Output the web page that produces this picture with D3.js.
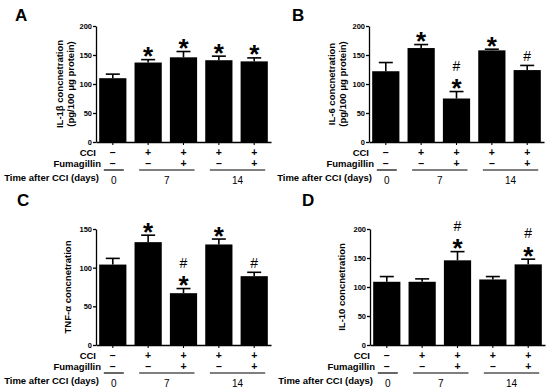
<!DOCTYPE html>
<html>
<head>
<meta charset="utf-8">
<script src="https://cdn.jsdelivr.net/npm/d3@7"></script>
<style>
  body { margin: 0; background: #fff; }
  svg { display: block; font-family: "Liberation Sans", Arial, sans-serif; }
</style>
</head>
<body>
<svg id="fig" width="550" height="391"></svg>
<script>
// five groups: sham, CCI 7d, CCI+Fum 7d, CCI 14d, CCI+Fum 14d
const groups = ['sham', 'cci7', 'cciFum7', 'cci14', 'cciFum14'];
const cciSigns = ['\u2013', '+', '+', '+', '+'];
const fumSigns = ['\u2013', '\u2013', '+', '\u2013', '+'];
const timeLabels = ['0', '7', '14'];
const timeGroups = [[0], [1, 2], [3, 4]];

const il1bMean = [110, 137, 146, 141, 139];
const il1bSem = [7, 5, 10, 7, 6];
const il1bStar = [0, 1, 1, 1, 1];
const il1bHash = [0, 0, 0, 0, 0];

const il6Mean = [122, 162, 75, 158, 124];
const il6Sem = [15, 6, 12, 2, 8];
const il6Star = [0, 1, 1, 1, 0];
const il6Hash = [0, 0, 1, 0, 1];

const tnfMean = [104, 133, 67, 130, 89];
const tnfSem = [8, 9, 6, 7, 5];
const tnfStar = [0, 1, 1, 1, 0];
const tnfHash = [0, 0, 1, 0, 1];

const il10Mean = [109, 109, 146, 113, 139];
const il10Sem = [9, 5, 15, 5, 9];
const il10Star = [0, 0, 1, 0, 1];
const il10Hash = [0, 0, 1, 0, 1];

const svg = d3.select('#fig');

function drawPanel(p) {
    const g = svg.append('g');
    const yScale = d3.scaleLinear().domain([0, p.yMax]).range([p.zeroY, p.topY]);
    const xScale = d3.scaleBand()
        .domain(groups)
        .range([p.axisX, p.axisX + 175])
        .paddingInner(0.23)
        .paddingOuter(0.09);

    // panel letter
    g.append('text')
        .attr('x', p.letterX).attr('y', p.letterY)
        .attr('font-size', '17px').attr('font-weight', 'bold')
        .text(p.letter);

    // bars
    g.selectAll('rect.bar')
        .data(p.mean)
        .join('rect')
        .attr('class', 'bar')
        .attr('x', (d, i) => xScale(groups[i]))
        .attr('width', xScale.bandwidth())
        .attr('y', d => yScale(d))
        .attr('height', d => p.zeroY - yScale(d))
        .attr('fill', '#000');

    // upper error bars
    const err = g.selectAll('g.err')
        .data(p.mean)
        .join('g')
        .attr('class', 'err')
        .attr('transform', (d, i) => `translate(${xScale(groups[i]) + xScale.bandwidth() / 2},0)`);
    err.append('line')
        .attr('y1', d => yScale(d))
        .attr('y2', (d, i) => yScale(d + p.sem[i]))
        .attr('stroke', '#000').attr('stroke-width', 1.6);
    err.append('line')
        .attr('x1', -7).attr('x2', 7)
        .attr('y1', (d, i) => yScale(d + p.sem[i]))
        .attr('y2', (d, i) => yScale(d + p.sem[i]))
        .attr('stroke', '#000').attr('stroke-width', 1.6);

    // significance marks
    p.mean.forEach((d, i) => {
        const cx = xScale(groups[i]) + xScale.bandwidth() / 2;
        const capY = yScale(d + p.sem[i]);
        let hashBase = capY - 4;
        if (p.star[i]) {
            const cy = capY - 9;
            g.append('text')
                .attr('x', cx).attr('y', cy + 14.5)
                .attr('text-anchor', 'middle')
                .attr('font-size', '26px').attr('font-weight', 'bold')
                .text('*');
            hashBase = cy - 12;
        }
        if (p.hash[i]) {
            g.append('text')
                .attr('x', cx).attr('y', hashBase)
                .attr('text-anchor', 'middle')
                .attr('font-size', '14px')
                .text('#');
        }
    });

    // axes
    const yAxis = g.append('g')
        .attr('transform', `translate(${p.axisX},0)`)
        .call(d3.axisLeft(yScale).tickValues(p.ticks).tickSize(3).tickSizeOuter(0).tickPadding(1));
    yAxis.selectAll('text').attr('font-size', '7.5px').attr('font-weight', 'bold')
        .attr('font-family', '"Liberation Sans", Arial, sans-serif');
    yAxis.select('.domain').attr('stroke-width', 1.3);
    yAxis.selectAll('.tick line').attr('stroke-width', 1.3);

    const xAxis = g.append('g')
        .attr('transform', `translate(0,${p.zeroY})`)
        .call(d3.axisBottom(xScale).tickSize(3).tickSizeOuter(0).tickFormat(''));
    xAxis.select('.domain').attr('stroke-width', 1.3);
    xAxis.selectAll('.tick line').attr('stroke-width', 1.1);

    // y label
    const yl = g.append('text')
        .attr('transform', `translate(${p.axisX + p.labelDx},${(p.zeroY + p.topY) / 2}) rotate(-90)`)
        .attr('text-anchor', 'middle')
        .attr('font-size', '9.5px').attr('font-weight', 'bold');
    p.label.forEach((t, k) => {
        yl.append('tspan')
            .attr('x', 0)
            .attr('dy', k === 0 ? (p.label.length > 1 ? '-0.25em' : '0.35em') : '1.15em')
            .text(t);
    });

    // condition table
    const rows = [
        { name: 'CCI', signs: cciSigns, dy: 10.5, dx: 0 },
        { name: 'Fumagillin', signs: fumSigns, dy: 21.5, dx: 5 }
    ];
    rows.forEach(r => {
        g.append('text')
            .attr('x', p.axisX + r.dx).attr('y', p.zeroY + r.dy)
            .attr('dy', '0.35em')
            .attr('text-anchor', 'end')
            .attr('font-size', '9.5px').attr('font-weight', 'bold')
            .text(r.name);
        g.selectAll(null)
            .data(r.signs)
            .join('text')
            .attr('x', (d, i) => xScale(groups[i]) + xScale.bandwidth() / 2)
            .attr('y', p.zeroY + r.dy)
            .attr('dy', '0.35em')
            .attr('text-anchor', 'middle')
            .attr('font-size', '10.5px').attr('font-weight', 'bold')
            .text(d => d);
    });

    g.append('text')
        .attr('x', p.axisX + 3).attr('y', p.zeroY + 36)
        .attr('dy', '0.35em')
        .attr('text-anchor', 'end')
        .attr('font-size', '9.5px').attr('font-weight', 'bold')
        .text('Time after CCI (days)');

    timeGroups.forEach((idx, k) => {
        const x1 = xScale(groups[idx[0]]) + xScale.bandwidth() / 2 - 9;
        const x2 = xScale(groups[idx[idx.length - 1]]) + xScale.bandwidth() / 2 + 11;
        g.append('line')
            .attr('x1', x1).attr('x2', x2)
            .attr('y1', p.zeroY + 28).attr('y2', p.zeroY + 28)
            .attr('stroke', '#000').attr('stroke-width', 1.2);
        g.append('text')
            .attr('x', (x1 + x2) / 2).attr('y', p.zeroY + 38)
            .attr('dy', '0.35em')
            .attr('text-anchor', 'middle')
            .attr('font-size', '10px')
            .text(timeLabels[k]);
    });
}

drawPanel({ letter: 'A', letterX: 15, letterY: 21, axisX: 96, topY: 26, zeroY: 142, yMax: 200,
    ticks: [0, 50, 100, 150, 200], labelDx: -31,
    label: ['IL-1\u03b2 concnetration', '(pg/100 \u03bcg protein)'],
    mean: il1bMean, sem: il1bSem, star: il1bStar, hash: il1bHash });
drawPanel({ letter: 'B', letterX: 292, letterY: 21, axisX: 369, topY: 26, zeroY: 142, yMax: 200,
    ticks: [0, 50, 100, 150, 200], labelDx: -32,
    label: ['IL-6 concnetration', '(pg/100 \u03bcg protein)'],
    mean: il6Mean, sem: il6Sem, star: il6Star, hash: il6Hash });
drawPanel({ letter: 'C', letterX: 17, letterY: 206, axisX: 96, topY: 229, zeroY: 345, yMax: 150,
    ticks: [0, 50, 100, 150], labelDx: -28,
    label: ['TNF-\u03b1 concnetration'],
    mean: tnfMean, sem: tnfSem, star: tnfStar, hash: tnfHash });
drawPanel({ letter: 'D', letterX: 302, letterY: 206, axisX: 370, topY: 229, zeroY: 345, yMax: 200,
    ticks: [0, 50, 100, 150, 200], labelDx: -28,
    label: ['IL-10 concnetration'],
    mean: il10Mean, sem: il10Sem, star: il10Star, hash: il10Hash });
</script>
</body>
</html>
